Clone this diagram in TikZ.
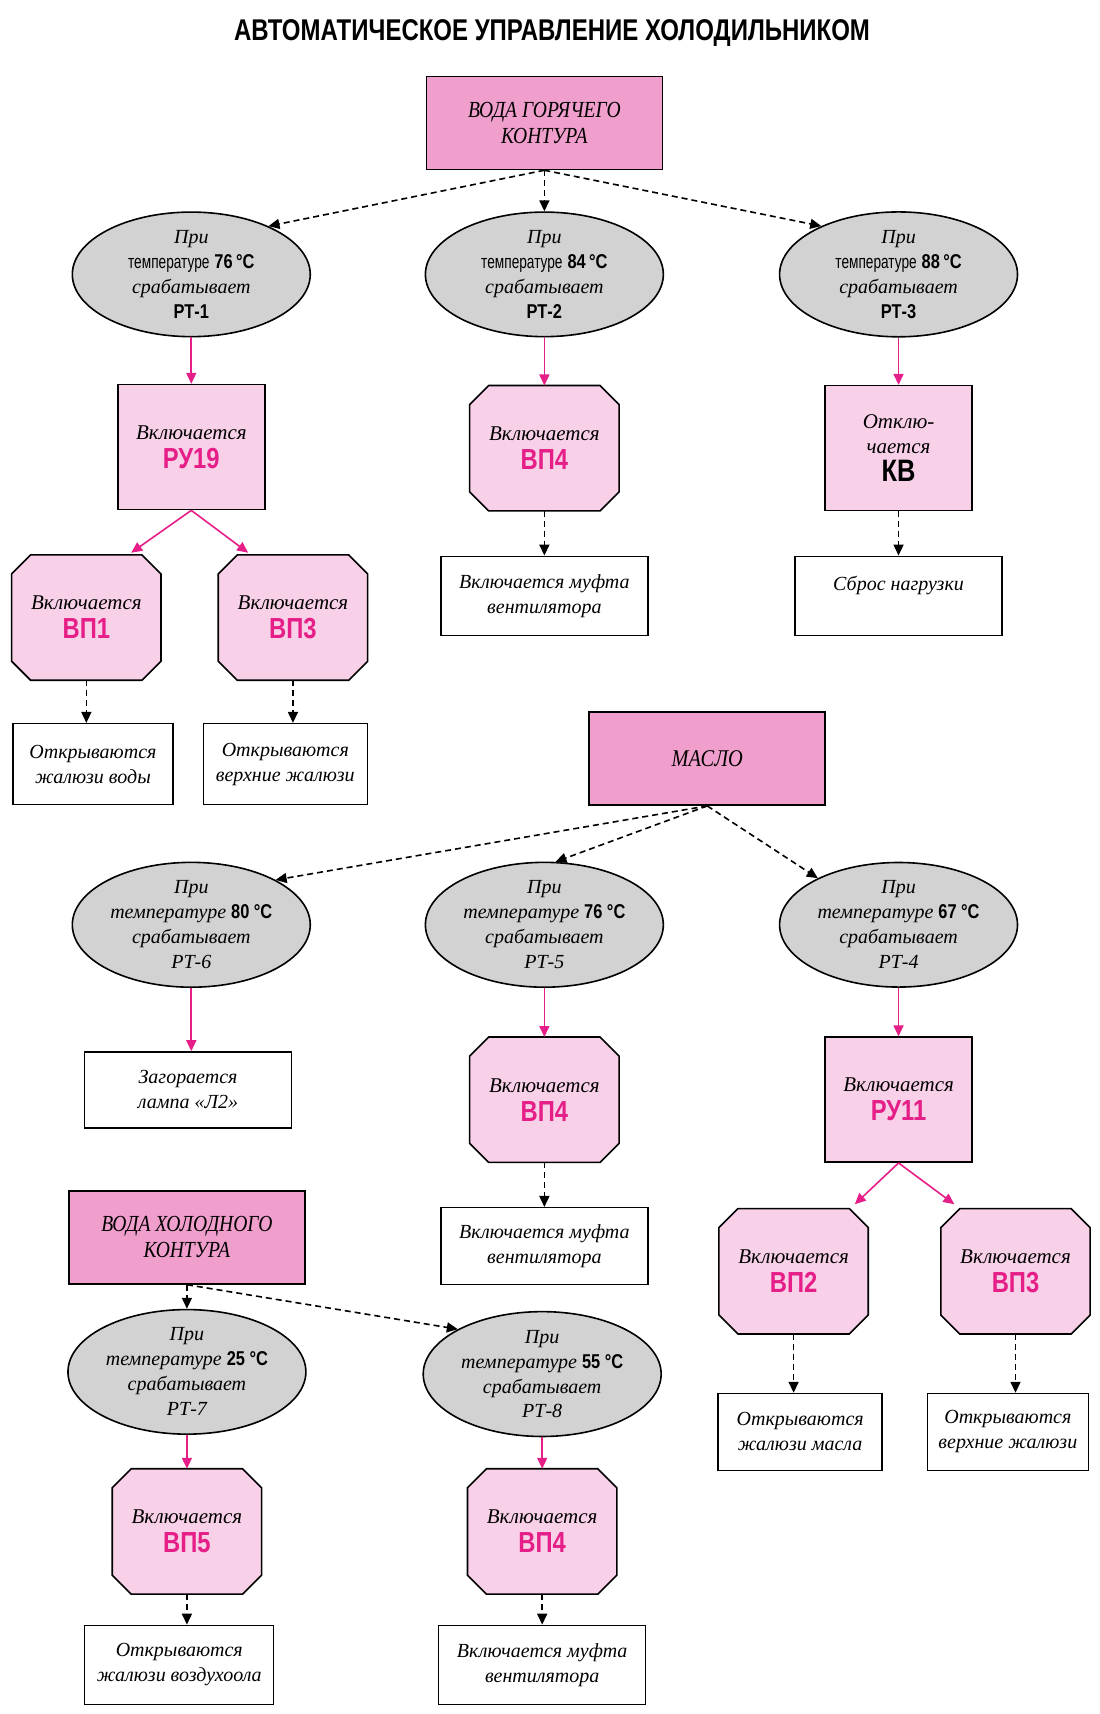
\documentclass[tikz,border=0pt]{standalone}
\usepackage{fontspec}
\setmainfont{Liberation Serif}
\newfontfamily\bsans[FakeStretch=0.82]{Liberation Sans}
\newfontfamily\titlesans[FakeStretch=0.8]{Liberation Sans}
\newfontfamily\tsans[FakeStretch=0.72]{Liberation Sans}
\newfontfamily\cserif[FakeStretch=0.85]{Liberation Serif}
\usetikzlibrary{shapes.geometric,arrows.meta,calc,backgrounds}
\definecolor{pk}{RGB}{230,30,135}
\definecolor{boxpink}{RGB}{240,158,204}
\definecolor{lightpink}{RGB}{248,208,232}
\definecolor{ellgray}{RGB}{210,210,210}
\newcommand{\bl}[1]{{\bsans\bfseries\upshape #1}}
\newcommand{\pl}[1]{{\bsans\bfseries\upshape\color{pk}\fontsize{29}{32}\selectfont #1}}
\newcommand{\octo}[1]{\begin{pgfonlayer}{background}\draw[line width=1.6pt,fill=lightpink]
  ($(#1.north west)+(19pt,0)$) -- ($(#1.north east)+(-19pt,0)$) -- ($(#1.north east)+(0,-19pt)$)
  -- ($(#1.south east)+(0,19pt)$) -- ($(#1.south east)+(-19pt,0)$) -- ($(#1.south west)+(19pt,0)$)
  -- ($(#1.south west)+(0,19pt)$) -- ($(#1.north west)+(0,-19pt)$) -- cycle;\end{pgfonlayer}}
\begin{document}
\begin{tikzpicture}[x=1.0934pt,y=-1.0934pt,
  mainbox/.style={draw,line width=1.6pt,fill=boxpink,minimum width=236pt,minimum height=93pt,
    inner sep=0pt,align=center,font=\cserif\itshape\fontsize{23}{26}\selectfont},
  ell/.style={ellipse,draw,line width=1.6pt,fill=ellgray,minimum width=238pt,minimum height=124pt,
    inner sep=0pt,align=center,font=\itshape\fontsize{20}{25}\selectfont},
  relay/.style={rectangle,draw,line width=1.6pt,fill=lightpink,minimum width=147pt,minimum height=125pt,
    inner sep=0pt,align=center,font=\itshape\fontsize{21}{29}\selectfont},
  oct/.style={rectangle,minimum width=149pt,minimum height=125pt,
    inner sep=0pt,align=center,font=\itshape\fontsize{21}{29}\selectfont},
  res/.style={rectangle,draw,line width=1.4pt,fill=white,minimum height=79pt,inner sep=0pt,
    align=center,font=\itshape\fontsize{20}{25}\selectfont},
  darr/.style={line width=1.6pt,dash pattern=on 6pt off 4pt,-{Triangle[length=11pt,width=10pt]}},
  parr/.style={line width=1.6pt,draw=pk,-{Triangle[length=11pt,width=10pt]}}
]
\begin{pgfonlayer}{background}
\fill[white] (0,0) rectangle (1006,1568);
\end{pgfonlayer}
\useasboundingbox (0,0) rectangle (1006,1568);

\node (title) at (505,30) {\titlesans\bfseries\fontsize{30}{32}\selectfont АВТОМАТИЧЕСКОЕ УПРАВЛЕНИЕ ХОЛОДИЛЬНИКОМ};

% ---------- hot water ----------
\node[mainbox] (hot) at (498,112.5) {ВОДА ГОРЯЧЕГО\\КОНТУРА};
\node[ell] (e1) at (175,251) {При\\{\tsans\upshape\fontsize{19}{25}\selectfont температуре} \bl{76\,°C}\\срабатывает\\\bl{РТ-1}};
\node[ell] (e2) at (498,251) {При\\{\tsans\upshape\fontsize{19}{25}\selectfont температуре} \bl{84\,°C}\\срабатывает\\\bl{РТ-2}};
\node[ell] (e3) at (822,251) {При\\{\tsans\upshape\fontsize{19}{25}\selectfont температуре} \bl{88\,°C}\\срабатывает\\\bl{РТ-3}};
\node[relay] (ru19) at (175,409) {Включается\\\pl{РУ19}};
\node[oct] (vp4a) at (498,410) {Включается\\\pl{ВП4}};\octo{vp4a}
\node[relay,font=\itshape\fontsize{21}{25}\selectfont] (kv) at (822,410) {Отклю-\\чается\\[3pt]{\bsans\bfseries\upshape\fontsize{31}{32}\selectfont КВ}};
\node[res,minimum width=207pt] (muf1) at (498,545) {Включается муфта\\вентилятора};
\node[res,minimum width=207pt] (sbros) at (822,545) {Сброс нагрузки\\\mbox{}};
\node[oct] (vp1) at (79,565) {Включается\\\pl{ВП1}};\octo{vp1}
\node[oct] (vp3a) at (268,565) {Включается\\\pl{ВП3}};\octo{vp3a}
\node[res,minimum width=160pt,minimum height=81pt] (ot1) at (85,699) {Открываются\\жалюзи воды};
\node[res,minimum width=164pt,minimum height=81pt] (ot2) at (261,699) {Открываются\\верхние жалюзи};

\draw[darr] (hot.south) -- (e1.32);
\draw[darr] (hot.south) -- (e2.north);
\draw[darr] (hot.south) -- (e3.148);
\draw[parr] (e1.south) -- (ru19.north);
\draw[parr] (e2.south) -- (vp4a.north);
\draw[parr] (e3.south) -- (kv.north);
\draw[darr] (vp4a.south) -- (muf1.north);
\draw[darr] (kv.south) -- (sbros.north);
\draw[parr] (ru19.south) -- ($(vp1.north)+(41,-2)$);
\draw[parr] (ru19.south) -- ($(vp3a.north)+(-41,-2)$);
\draw[darr] (vp1.south) -- (vp1.south |- ot1.north);
\draw[darr] (vp3a.south) -- (vp3a.south |- ot2.north);

% ---------- oil ----------
\node[mainbox,font=\cserif\itshape\fontsize{24}{26}\selectfont] (oil) at (647,694) {МАСЛО};
\node[ell] (e6) at (175,846) {При\\температуре \bl{80 °C}\\срабатывает\\РТ-6};
\node[ell] (e5) at (498,846) {При\\температуре \bl{76 °C}\\срабатывает\\РТ-5};
\node[ell] (e4) at (822,846) {При\\температуре \bl{67 °C}\\срабатывает\\РТ-4};
\node[res,minimum width=207pt,minimum height=76pt] (lamp) at (172,997) {Загорается\\лампа «Л2»};
\node[oct] (vp4b) at (498,1006) {Включается\\\pl{ВП4}};\octo{vp4b}
\node[relay] (ru11) at (822,1006) {Включается\\\pl{РУ11}};
\node[res,minimum width=207pt,minimum height=77pt] (muf2) at (498,1140) {Включается муфта\\вентилятора};
\node[oct] (vp2) at (726,1163) {Включается\\\pl{ВП2}};\octo{vp2}
\node[oct] (vp3b) at (929,1163) {Включается\\\pl{ВП3}};\octo{vp3b}
\node[res,minimum width=164pt,minimum height=77pt] (ot3) at (732,1310) {Открываются\\жалюзи масла};
\node[res,minimum width=161pt,minimum height=77pt] (ot4) at (922,1310) {Открываются\\верхние жалюзи};

\draw[darr] (oil.south) -- (e6.28);
\draw[darr] (oil.south) -- (e5.80);
\draw[darr] (oil.south) -- (e4.150);
\draw[parr] (e6.south) -- (e6.south |- lamp.north);
\draw[parr] (e5.south) -- (vp4b.north);
\draw[parr] (e4.south) -- (ru11.north);
\draw[darr] (vp4b.south) -- (muf2.north);
\draw[parr] (ru11.south) -- ($(vp2.north)+(56,-4)$);
\draw[parr] (ru11.south) -- ($(vp3b.north)+(-56,-4)$);
\draw[darr] (vp2.south) -- (vp2.south |- ot3.north);
\draw[darr] (vp3b.south) -- (vp3b.south |- ot4.north);

% ---------- cold water ----------
\node[mainbox] (cold) at (171,1132) {ВОДА ХОЛОДНОГО\\КОНТУРА};
\node[ell] (e7) at (171,1255) {При\\температуре \bl{25 °C}\\срабатывает\\РТ-7};
\node[ell] (e8) at (496,1257) {При\\температуре \bl{55 °C}\\срабатывает\\РТ-8};
\node[oct] (vp5) at (171,1401) {Включается\\\pl{ВП5}};\octo{vp5}
\node[oct] (vp4c) at (496,1401) {Включается\\\pl{ВП4}};\octo{vp4c}
\node[res,minimum width=189pt,minimum height=79pt] (ot5) at (164,1523) {Открываются\\жалюзи воздухоола};
\node[res,minimum width=207pt,minimum height=79pt] (muf3) at (496,1523) {Включается муфта\\вентилятора};

\draw[darr] (cold.south) -- (e7.north);
\draw[darr] (cold.south) -- (e8.152);
\draw[parr] (e7.south) -- (vp5.north);
\draw[parr] (e8.south) -- (vp4c.north);
\draw[darr] (vp5.south) -- (vp5.south |- ot5.north);
\draw[darr] (vp4c.south) -- (muf3.north);
\end{tikzpicture}
\end{document}
